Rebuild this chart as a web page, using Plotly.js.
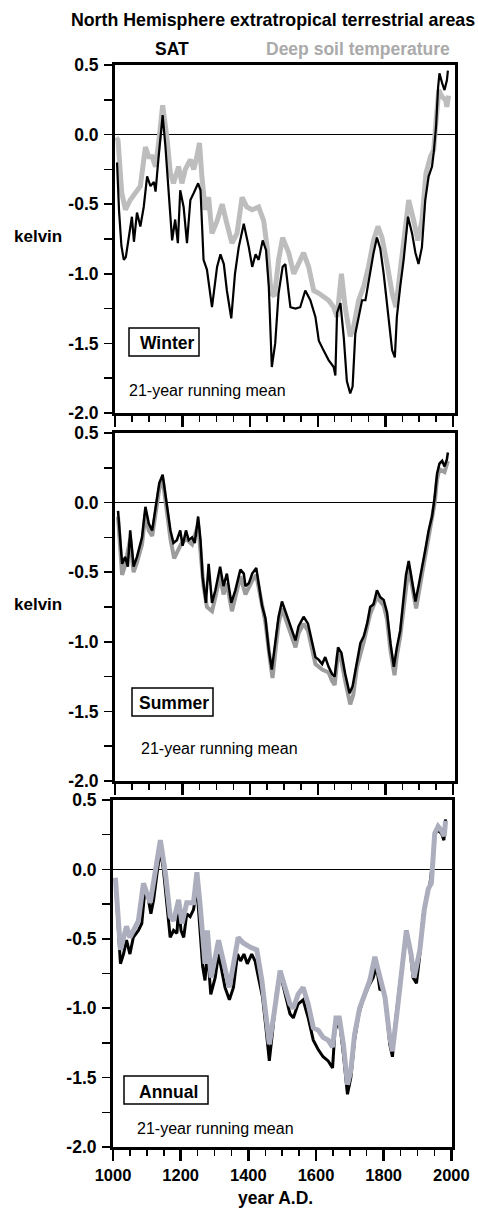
<!DOCTYPE html>
<html><head><meta charset="utf-8">
<script src="https://cdn.plot.ly/plotly-3.0.1.min.js"></script>
<style>html,body{margin:0;padding:0;background:#fff}#chart{width:478px;height:1210px}</style>
</head><body><div id="chart"></div>
<script>
// ---------- DATA (21-year running means, kelvin) ----------
const xTickVals = [1000, 1200, 1400, 1600, 1800, 2000];
const xTickText = ['1000', '1200', '1400', '1600', '1800', '2000'];
const yTickVals = [-2, -1.5, -1, -0.5, 0, 0.5];
const yTickText = ['-2.0', '-1.5', '-1.0', '-0.5', '0.0', '0.5'];

const winterSatYears = [1006,1012,1019,1026,1032,1040,1050,1056,1065,1075,1085,1095,1105,1115,1120,1129,1141,1149,1159,1169,1178,1186,1193,1203,1213,1223,1233,1246,1253,1262,1272,1287,1302,1312,1322,1331,1344,1355,1366,1381,1396,1406,1416,1425,1437,1447,1455,1464,1474,1484,1496,1504,1514,1519,1534,1548,1563,1578,1593,1603,1617,1632,1647,1652,1657,1667,1677,1686,1696,1703,1711,1721,1731,1741,1752,1765,1775,1785,1795,1808,1820,1828,1834,1844,1854,1867,1879,1889,1898,1908,1918,1928,1938,1943,1950,1956,1960,1968,1975,1982,1985];
const winterSat = [-0.20,-0.55,-0.80,-0.90,-0.88,-0.75,-0.59,-0.77,-0.56,-0.66,-0.52,-0.30,-0.37,-0.34,-0.41,-0.16,0.14,-0.08,-0.45,-0.76,-0.61,-0.78,-0.40,-0.52,-0.78,-0.47,-0.42,-0.35,-0.40,-0.90,-0.97,-1.24,-0.95,-0.86,-0.93,-1.12,-1.32,-1.00,-0.81,-0.64,-0.81,-0.95,-0.86,-0.90,-0.76,-0.83,-1.09,-1.67,-1.50,-1.14,-0.95,-0.93,-1.14,-1.24,-1.25,-1.24,-1.12,-1.19,-1.31,-1.48,-1.55,-1.62,-1.67,-1.73,-1.28,-1.21,-1.46,-1.77,-1.86,-1.81,-1.43,-1.31,-1.19,-1.19,-1.02,-0.85,-0.74,-0.82,-1.00,-1.29,-1.55,-1.60,-1.31,-1.09,-0.90,-0.59,-0.71,-0.85,-0.93,-0.81,-0.47,-0.30,-0.23,-0.13,0.06,0.34,0.44,0.37,0.32,0.39,0.46];

const winterSoilYears = [1004,1009,1020,1031,1045,1060,1075,1090,1100,1110,1120,1129,1141,1154,1164,1173,1188,1198,1208,1223,1233,1242,1250,1257,1267,1277,1287,1302,1317,1331,1346,1361,1376,1390,1406,1425,1440,1450,1462,1472,1484,1496,1514,1529,1543,1558,1573,1588,1603,1617,1632,1647,1657,1670,1681,1696,1706,1721,1736,1750,1765,1778,1790,1805,1820,1831,1844,1857,1869,1884,1896,1908,1920,1933,1943,1950,1958,1968,1978,1982,1987];
const winterSoil = [-0.02,-0.04,-0.42,-0.54,-0.47,-0.42,-0.37,-0.09,-0.16,-0.16,-0.23,-0.06,0.21,-0.03,-0.28,-0.35,-0.23,-0.35,-0.25,-0.18,-0.25,-0.16,-0.06,-0.30,-0.54,-0.45,-0.71,-0.62,-0.50,-0.64,-0.78,-0.71,-0.45,-0.52,-0.54,-0.52,-0.62,-0.81,-1.14,-1.16,-0.90,-0.74,-0.85,-1.00,-0.93,-0.85,-0.95,-1.12,-1.14,-1.16,-1.19,-1.24,-1.31,-1.00,-1.24,-1.45,-1.38,-1.19,-1.09,-0.95,-0.76,-0.66,-0.74,-0.93,-1.14,-1.24,-0.95,-0.66,-0.47,-0.62,-0.76,-0.62,-0.28,-0.16,-0.11,0.10,0.32,0.27,0.25,0.20,0.28];

const summerSatYears = [1009,1021,1030,1038,1045,1055,1065,1080,1090,1100,1110,1120,1131,1141,1150,1164,1173,1183,1193,1200,1210,1218,1228,1236,1246,1253,1259,1269,1277,1287,1297,1311,1321,1331,1344,1356,1371,1381,1386,1396,1406,1418,1425,1435,1445,1455,1464,1474,1484,1494,1509,1524,1534,1543,1558,1571,1583,1593,1603,1613,1622,1632,1642,1650,1660,1670,1681,1694,1703,1716,1726,1736,1746,1755,1765,1775,1785,1795,1805,1815,1825,1834,1844,1854,1861,1869,1879,1889,1898,1908,1918,1928,1938,1946,1953,1960,1968,1975,1982,1985];
const summerSat = [-0.06,-0.44,-0.39,-0.46,-0.20,-0.46,-0.39,-0.25,-0.03,-0.15,-0.20,-0.03,0.14,0.20,0.04,-0.20,-0.29,-0.27,-0.20,-0.31,-0.20,-0.27,-0.25,-0.29,-0.10,-0.27,-0.53,-0.72,-0.44,-0.72,-0.63,-0.46,-0.60,-0.51,-0.72,-0.63,-0.48,-0.51,-0.60,-0.58,-0.51,-0.47,-0.58,-0.74,-0.83,-1.06,-1.20,-1.02,-0.82,-0.71,-0.82,-0.92,-0.99,-0.89,-0.82,-0.87,-1.01,-1.11,-1.13,-1.16,-1.11,-1.18,-1.23,-1.25,-1.04,-1.08,-1.23,-1.37,-1.32,-1.13,-1.01,-0.96,-0.87,-0.75,-0.73,-0.63,-0.68,-0.70,-0.79,-1.01,-1.18,-1.04,-0.92,-0.68,-0.52,-0.42,-0.56,-0.71,-0.60,-0.48,-0.34,-0.20,-0.10,0.04,0.21,0.28,0.30,0.26,0.31,0.36];

const summerSoilYears = [1009,1021,1030,1045,1055,1065,1080,1090,1100,1110,1120,1131,1141,1150,1164,1175,1185,1195,1210,1228,1246,1253,1262,1272,1287,1297,1311,1321,1331,1346,1356,1371,1386,1406,1418,1430,1445,1458,1466,1474,1484,1494,1509,1524,1534,1543,1558,1571,1583,1593,1613,1632,1642,1650,1660,1670,1681,1696,1705,1716,1736,1755,1775,1795,1805,1815,1827,1834,1844,1856,1869,1879,1891,1908,1928,1946,1953,1960,1975,1985];
const summerSoil = [-0.10,-0.52,-0.45,-0.26,-0.50,-0.43,-0.30,-0.08,-0.20,-0.24,-0.08,0.10,0.17,0.00,-0.26,-0.40,-0.35,-0.30,-0.26,-0.30,-0.16,-0.33,-0.60,-0.75,-0.78,-0.68,-0.52,-0.66,-0.58,-0.78,-0.68,-0.53,-0.66,-0.56,-0.52,-0.66,-0.86,-1.12,-1.26,-1.08,-0.87,-0.76,-0.87,-0.96,-1.04,-0.94,-0.87,-0.92,-1.06,-1.16,-1.20,-1.22,-1.28,-1.31,-1.08,-1.14,-1.28,-1.45,-1.38,-1.18,-1.00,-0.80,-0.68,-0.74,-0.84,-1.06,-1.24,-1.10,-0.96,-0.72,-0.46,-0.60,-0.76,-0.52,-0.24,0.00,0.17,0.24,0.22,0.30];

const annualSatYears = [1007,1022,1031,1040,1050,1060,1075,1085,1095,1105,1112,1120,1130,1140,1149,1161,1169,1179,1189,1194,1201,1209,1218,1228,1238,1248,1256,1265,1272,1279,1289,1302,1312,1321,1331,1344,1356,1368,1377,1387,1397,1410,1420,1430,1442,1452,1462,1472,1484,1494,1508,1523,1533,1547,1562,1577,1592,1607,1621,1636,1649,1656,1669,1681,1693,1703,1714,1727,1739,1754,1769,1779,1789,1799,1809,1818,1826,1833,1843,1856,1867,1877,1887,1897,1907,1916,1926,1936,1944,1951,1961,1971,1978,1983];
const annualSat = [-0.08,-0.68,-0.61,-0.51,-0.61,-0.49,-0.44,-0.39,-0.13,-0.22,-0.32,-0.22,-0.03,0.14,0.00,-0.27,-0.49,-0.44,-0.46,-0.27,-0.44,-0.49,-0.32,-0.34,-0.29,-0.13,-0.37,-0.70,-0.80,-0.58,-0.90,-0.78,-0.61,-0.73,-0.85,-0.94,-0.85,-0.61,-0.66,-0.61,-0.68,-0.61,-0.66,-0.78,-0.92,-1.14,-1.38,-1.16,-0.87,-0.75,-0.90,-1.04,-1.07,-0.97,-0.94,-1.07,-1.23,-1.30,-1.35,-1.38,-1.43,-1.16,-1.09,-1.33,-1.62,-1.50,-1.23,-1.04,-0.94,-0.85,-0.78,-0.70,-0.87,-0.85,-1.04,-1.26,-1.35,-1.14,-0.92,-0.68,-0.44,-0.56,-0.78,-0.82,-0.61,-0.34,-0.20,-0.12,0.04,0.26,0.28,0.26,0.21,0.36];

const annualSoilYears = [1007,1022,1040,1050,1075,1090,1110,1140,1155,1169,1179,1194,1204,1218,1238,1248,1258,1272,1279,1290,1312,1331,1344,1370,1385,1405,1425,1440,1462,1476,1494,1523,1533,1547,1562,1577,1592,1607,1621,1636,1649,1659,1669,1681,1693,1703,1714,1729,1744,1759,1774,1789,1804,1818,1826,1840,1856,1867,1881,1890,1907,1920,1932,1941,1951,1961,1971,1979,1983];
const annualSoil = [-0.06,-0.58,-0.41,-0.49,-0.37,-0.10,-0.24,0.21,-0.03,-0.34,-0.37,-0.22,-0.39,-0.24,-0.24,-0.02,-0.27,-0.68,-0.44,-0.78,-0.51,-0.73,-0.85,-0.49,-0.53,-0.56,-0.58,-0.80,-1.26,-1.04,-0.73,-0.97,-1.00,-0.90,-0.85,-0.97,-1.14,-1.16,-1.21,-1.23,-1.28,-1.07,-1.07,-1.26,-1.55,-1.45,-1.19,-1.00,-0.90,-0.80,-0.63,-0.78,-0.92,-1.21,-1.31,-1.02,-0.66,-0.44,-0.61,-0.78,-0.58,-0.29,-0.14,-0.10,0.26,0.31,0.28,0.24,0.35];

// ---------- LAYOUT ----------
const W = 478, H = 1210;
const FONT = 'Liberation Sans, Arial, Helvetica, sans-serif';
const fx = v => v / W;
const fy = v => 1 - v / H;

function xAxis(left, right, rangeEnd, anchor, showLabels) {
  return {
    domain: [fx(left), fx(right)], range: [1000, rangeEnd], anchor: anchor,
    tickmode: 'array', tickvals: xTickVals, ticktext: xTickText, showticklabels: showLabels,
    ticks: 'outside', ticklen: 11, tickwidth: 2.5, tickcolor: '#000',
    minor: {tickmode: 'linear', tick0: 1000, dtick: 50, ticks: 'outside', ticklen: 6, tickwidth: 1.5, tickcolor: '#000'},
    showline: true, linecolor: '#000', linewidth: 3, mirror: true,
    showgrid: false, zeroline: false, fixedrange: true, automargin: false,
    tickfont: {family: FONT, size: 16.5, weight: 'bold', color: '#000'}
  };
}
function yAxis(top, bottom, anchor) {
  return {
    domain: [fy(bottom), fy(top)], range: [-2, 0.5], anchor: anchor,
    tickmode: 'array', tickvals: yTickVals, ticktext: yTickText,
    ticks: 'outside', ticklen: 8, tickwidth: 1.5, tickcolor: '#000',
    minor: {tickmode: 'linear', tick0: -2, dtick: 0.25, ticks: 'outside', ticklen: 8, tickwidth: 1.5, tickcolor: '#000'},
    showline: true, linecolor: '#000', linewidth: 3, mirror: true,
    showgrid: false, zeroline: true, zerolinecolor: '#000', zerolinewidth: 1.2,
    fixedrange: true, automargin: false, ticklabelstandoff: 2,
    tickfont: {family: FONT, size: 17.5, weight: 'bold', color: '#000'}
  };
}

const traces = [
  {x: winterSoilYears, y: winterSoil, xaxis: 'x', yaxis: 'y', mode: 'lines', line: {color: '#bdbdbd', width: 5}},
  {x: winterSatYears, y: winterSat, xaxis: 'x', yaxis: 'y', mode: 'lines', line: {color: '#000', width: 2.2}},
  {x: summerSoilYears, y: summerSoil, xaxis: 'x2', yaxis: 'y2', mode: 'lines', line: {color: '#9c9c9c', width: 4}},
  {x: summerSatYears, y: summerSat, xaxis: 'x2', yaxis: 'y2', mode: 'lines', line: {color: '#000', width: 2.5}},
  {x: annualSatYears, y: annualSat, xaxis: 'x3', yaxis: 'y3', mode: 'lines', line: {color: '#000', width: 3}},
  {x: annualSoilYears, y: annualSoil, xaxis: 'x3', yaxis: 'y3', mode: 'lines', line: {color: '#acaebd', width: 5}}
];

function ann(text, x, y, opts) {
  return Object.assign({
    text: text, xref: 'paper', yref: 'paper', x: fx(x), y: fy(y),
    xanchor: 'center', yanchor: 'middle', showarrow: false,
    font: {family: FONT, size: 17.5, weight: 'bold', color: '#000'}
  }, opts || {});
}
function box(l, t, r, b) {
  return {type: 'rect', xref: 'paper', yref: 'paper', x0: fx(l), x1: fx(r), y0: fy(b), y1: fy(t),
          line: {color: '#000', width: 1.5}, fillcolor: 'rgba(0,0,0,0)'};
}
const normal = {family: FONT, size: 16, weight: 'normal', color: '#000'};

const layout = {
  width: W, height: H, margin: {l: 0, r: 0, t: 0, b: 0},
  paper_bgcolor: '#fff', plot_bgcolor: '#fff', showlegend: false,
  title: {text: 'North Hemisphere extratropical terrestrial areas', xref: 'container', yref: 'container',
          x: fx(273), xanchor: 'center', y: fy(20), yanchor: 'middle',
          font: {family: FONT, size: 17.8, weight: 'bold', color: '#000'}},
  xaxis: xAxis(115, 455, 2006, 'y', false),
  yaxis: yAxis(65, 413, 'x'),
  xaxis2: xAxis(115, 455, 2006, 'y2', false),
  yaxis2: yAxis(433, 781, 'x2'),
  xaxis3: xAxis(113, 452, 2002, 'y3', true),
  yaxis3: yAxis(800, 1147, 'x3'),
  shapes: [box(129, 328, 199, 356), box(132, 688, 213, 716), box(124, 1076, 208, 1104)],
  annotations: [
    ann('SAT', 172, 49),
    ann('Deep soil temperature', 358, 49, {font: {family: FONT, size: 17.5, weight: 'bold', color: '#aaaaaa'}}),
    ann('kelvin', 38, 236, {font: {family: FONT, size: 17, weight: 'bold', color: '#000'}}),
    ann('kelvin', 38, 604, {font: {family: FONT, size: 17, weight: 'bold', color: '#000'}}),
    ann('Winter', 167, 343),
    ann('Summer', 174, 703),
    ann('Annual', 168, 1092),
    ann('21-year running mean', 127, 390, {xanchor: 'left', font: normal}),
    ann('21-year running mean', 139, 748, {xanchor: 'left', font: normal}),
    ann('21-year running mean', 135, 1128, {xanchor: 'left', font: normal}),
    ann('year A.D.', 275, 1198)
  ]
};

Plotly.newPlot('chart', traces, layout, {staticPlot: true, displayModeBar: false});
</script>
</body></html>
